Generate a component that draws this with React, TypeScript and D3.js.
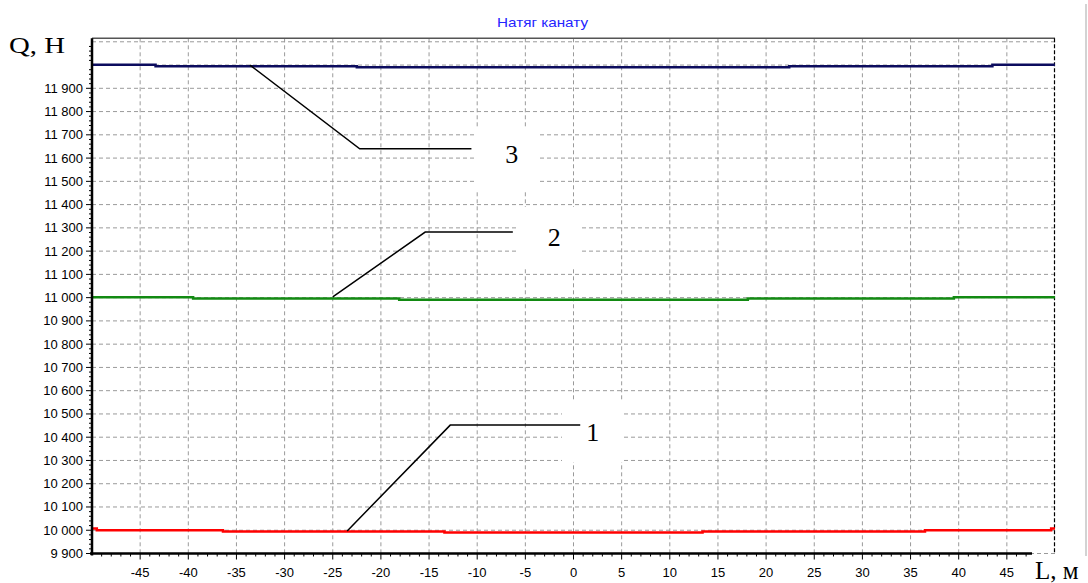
import React from "react";
import * as d3 from "d3";

// ---- data ----
const xTicks = [-45, -40, -35, -30, -25, -20, -15, -10, -5, 0, 5, 10, 15, 20, 25, 30, 35, 40, 45];
const yTicks = [9900, 10000, 10100, 10200, 10300, 10400, 10500, 10600, 10700, 10800, 10900, 11000, 11100, 11200, 11300, 11400, 11500, 11600, 11700, 11800, 11900];
const yGrid = [...yTicks, 12000, 12100];

const redL = [-50, -49.5, -36.4, -13.4, 13.4, 36.5, 49.6, 50];
const redQ = [10007, 10000, 9995, 9990, 9995, 10000, 10007, 10007];
const greenL = [-50, -39.5, -18.1, 18.1, 39.5, 50];
const greenQ = [11002, 10996, 10991, 10996, 11002, 11002];
const blueL = [-50, -43.4, -22.5, 22.4, 43.5, 50];
const blueQ = [12001, 11995, 11990, 11995, 12001, 12001];

// annotation leaders (data coords): [L, Q]
const leader3 = [[-33.6, 12000], [-22.2, 11640], [-10.6, 11640]];
const leader2 = [[-25.0, 11003], [-15.4, 11282], [-6.3, 11282]];
const leader1 = [[-23.5, 9997], [-12.8, 10452], [0.7, 10452]];
const labelNames = ["3", "2", "1"];
const labelPos = [[-6.4, 11580], [-2.0, 11222], [2.0, 10384]];

const W = 1088, H = 583;
const X0 = 92, X1 = 1055, YB = 553.5, YT = 38.3;

export default function App() {
  const x = d3.scaleLinear().domain([-50, 50]).range([X0, X1]);
  const y = d3.scaleLinear().domain([9900, 12115]).range([YB, YT]);
  const line = d3.line<[number, number]>().x(d => x(d[0])).y(d => y(d[1])).curve(d3.curveStepAfter);
  const poly = d3.line<number[]>().x(d => x(d[0])).y(d => y(d[1]));
  const fmt = (v: number) => d3.format(",")(v).replace(/,/g, " ");
  const series = [
    { L: redL, Q: redQ, c: "#ff0000" },
    { L: greenL, Q: greenQ, c: "#128a12" },
    { L: blueL, Q: blueQ, c: "#0c0c5e" },
  ];
  const minorX = d3.range(-49, 50, 1).filter(v => v % 5 !== 0);
  const minorY = d3.range(9920, 12115, 20).filter(v => v % 100 !== 0);
  const leaders = [leader3, leader2, leader1];
  return (
    <svg width={W} height={H} style={{ position: "absolute", left: 0, top: 0, background: "#fff" }}
      fontFamily="'Liberation Sans', Arial, sans-serif">
      <rect x={0} y={0} width={W} height={H} fill="#fff" />
      {/* grid */}
      {xTicks.map(t => (
        <line key={"gx" + t} x1={x(t)} x2={x(t)} y1={YT} y2={YB} stroke="#9a9a9a" strokeDasharray="4,3" strokeWidth={1} />
      ))}
      {yGrid.map(t => (
        <line key={"gy" + t} x1={X0} x2={X1} y1={y(t)} y2={y(t)} stroke="#9a9a9a" strokeDasharray="4,3" strokeWidth={1} />
      ))}
      {/* borders */}
      <line x1={X0} x2={X1} y1={YT} y2={YT} stroke="#555" strokeWidth={1.5} />
      <line x1={X1 - 0.5} x2={X1 - 0.5} y1={YT} y2={YB} stroke="#000" strokeDasharray="4,2" strokeWidth={1.2} />
      <line x1={1086} x2={1086} y1={4} y2={556} stroke="#c4c4c4" strokeWidth={1.5} />
      {/* label boxes */}
      <rect x={475} y={127} width={62} height={64} fill="#fff" />
      <rect x={517} y={207} width={63} height={62} fill="#fff" />
      <rect x={562} y={400} width={62} height={62} fill="#fff" />
      {/* series */}
      {series.map((s, i) => (
        <path key={"s" + i} d={line(s.L.map((l, j) => [l, s.Q[j]] as [number, number])) || ""} fill="none" stroke={s.c} strokeWidth={2.5} />
      ))}
      {/* leaders */}
      {leaders.map((p, i) => (
        <path key={"ld" + i} d={poly(p) || ""} fill="none" stroke="#000" strokeWidth={1.5} />
      ))}
      {labelNames.map((n, i) => (
        <text key={"lb" + n} x={x(labelPos[i][0])} y={y(labelPos[i][1])} textAnchor="middle" fontSize={26}
          fontFamily="'Liberation Serif', 'Times New Roman', serif" fill="#000">{n}</text>
      ))}
      {/* axes */}
      <line x1={X0} x2={X0} y1={YT} y2={YB + 2} stroke="#000" strokeWidth={2.5} />
      <line x1={X0 - 2} x2={1032} y1={YB} y2={YB} stroke="#000" strokeWidth={2.5} />
      {yTicks.map(t => (
        <g key={"yt" + t}>
          <line x1={X0 - 6} x2={X0} y1={y(t)} y2={y(t)} stroke="#000" strokeWidth={1} />
          <text x={83} y={y(t) + 4.5} textAnchor="end" fontSize={13} fill="#000">{fmt(t)}</text>
        </g>
      ))}
      {minorY.map(t => (
        <line key={"my" + t} x1={X0 - 3} x2={X0} y1={y(t)} y2={y(t)} stroke="#000" strokeWidth={1} />
      ))}
      {xTicks.map(t => (
        <g key={"xt" + t}>
          <line x1={x(t)} x2={x(t)} y1={YB} y2={YB + 6} stroke="#000" strokeWidth={1} />
          <text x={x(t)} y={577} textAnchor="middle" fontSize={13} fill="#000">{t}</text>
        </g>
      ))}
      {minorX.filter(t => x(t) < 1032).map(t => (
        <line key={"mx" + t} x1={x(t)} x2={x(t)} y1={YB} y2={YB + 3} stroke="#000" strokeWidth={1} />
      ))}
      {/* titles */}
      <text x={497} y={27} fontSize={13} fill="#2424ff" textLength={91} lengthAdjust="spacingAndGlyphs">Натяг канату</text>
      <text x={9} y={53} fontSize={24} fontFamily="'Liberation Serif', 'Times New Roman', serif" fill="#000"
        textLength={56} lengthAdjust="spacingAndGlyphs">Q, H</text>
      <text x={1035} y={579} fontSize={25} fontFamily="'Liberation Serif', 'Times New Roman', serif" fill="#000">L, м</text>
    </svg>
  );
}
